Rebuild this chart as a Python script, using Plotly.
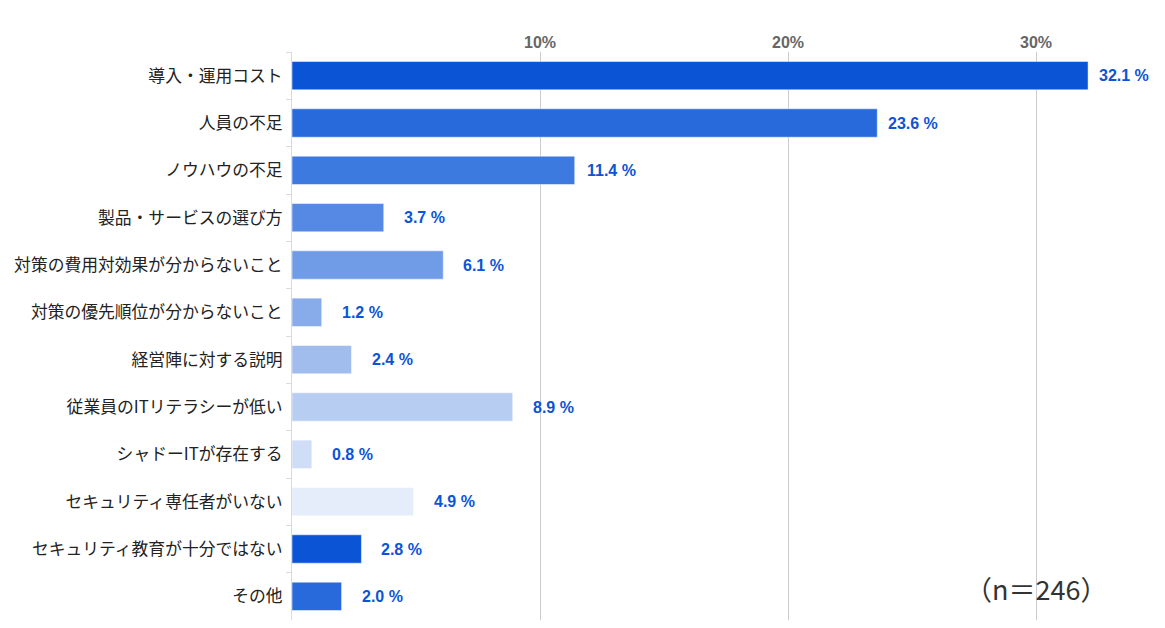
import plotly.graph_objects as go

categories = [
    "導入・運用コスト",
    "人員の不足",
    "ノウハウの不足",
    "製品・サービスの選び方",
    "対策の費用対効果が分からないこと",
    "対策の優先順位が分からないこと",
    "経営陣に対する説明",
    "従業員のITリテラシーが低い",
    "シャドーITが存在する",
    "セキュリティ専任者がいない",
    "セキュリティ教育が十分ではない",
    "その他",
]
values = [32.1, 23.6, 11.4, 3.7, 6.1, 1.2, 2.4, 8.9, 0.8, 4.9, 2.8, 2.0]
bar_colors = [
    "#0b54d6", "#2869db", "#3d7ae0", "#5689e3", "#6f9be7", "#88acea",
    "#a0bdee", "#b8cdf2", "#cfddf6", "#e5edfa", "#0b54d6", "#2869db",
]
tick_vals = [10, 20, 30]
tick_text = ["10%", "20%", "30%"]

fig = go.Figure()

# bars
fig.add_trace(go.Bar(
    x=values, y=categories, orientation="h",
    marker=dict(color=bar_colors, line=dict(color="rgba(255,255,255,0.5)", width=1)),
    hoverinfo="x+y",
))

# value labels: right-aligned at a fixed distance past the bar end
for c, v in zip(categories, values):
    fig.add_annotation(
        x=v, y=c, text=f"<b>{v:.1f} %</b>", showarrow=False,
        xanchor="right", xshift=63,
        font=dict(family="Liberation Sans, Arial", size=16, color="#0b54d6"),
    )

fig.add_annotation(
    xref="x", yref="paper", x=30.0, y=0.018, text="（n＝246）",
    showarrow=False, font=dict(family="Noto Sans CJK JP", size=27, color="#333333"),
)

fig.update_layout(
    width=1165, height=628,
    margin=dict(l=284, r=13, t=44, b=16),
    plot_bgcolor="white", paper_bgcolor="white",
    bargap=0.4, showlegend=False,
    font=dict(family="Noto Sans CJK JP", size=16, color="#222222"),
)
fig.update_xaxes(
    side="top", range=[0, 35], tickvals=tick_vals,
    ticktext=[f"<b>{t}</b>" for t in tick_text],
    showgrid=True, gridcolor="#cccccc", gridwidth=1, zeroline=False,
    tickfont=dict(family="Liberation Sans, Arial", size=16, color="#666666"),
    ticks="", showline=False, fixedrange=True, automargin=False,
)
fig.update_yaxes(
    autorange="reversed", showline=True, linecolor="#dcdccc", linewidth=1,
    ticks="outside", tickson="boundaries", ticklen=5, tickcolor="#dcdccc",
    ticklabelstandoff=5, automargin=False,
    tickfont=dict(family="Noto Sans CJK JP", size=16.8, color="#222222"),
    showgrid=False, fixedrange=True,
)

fig.write_html("out.html")
